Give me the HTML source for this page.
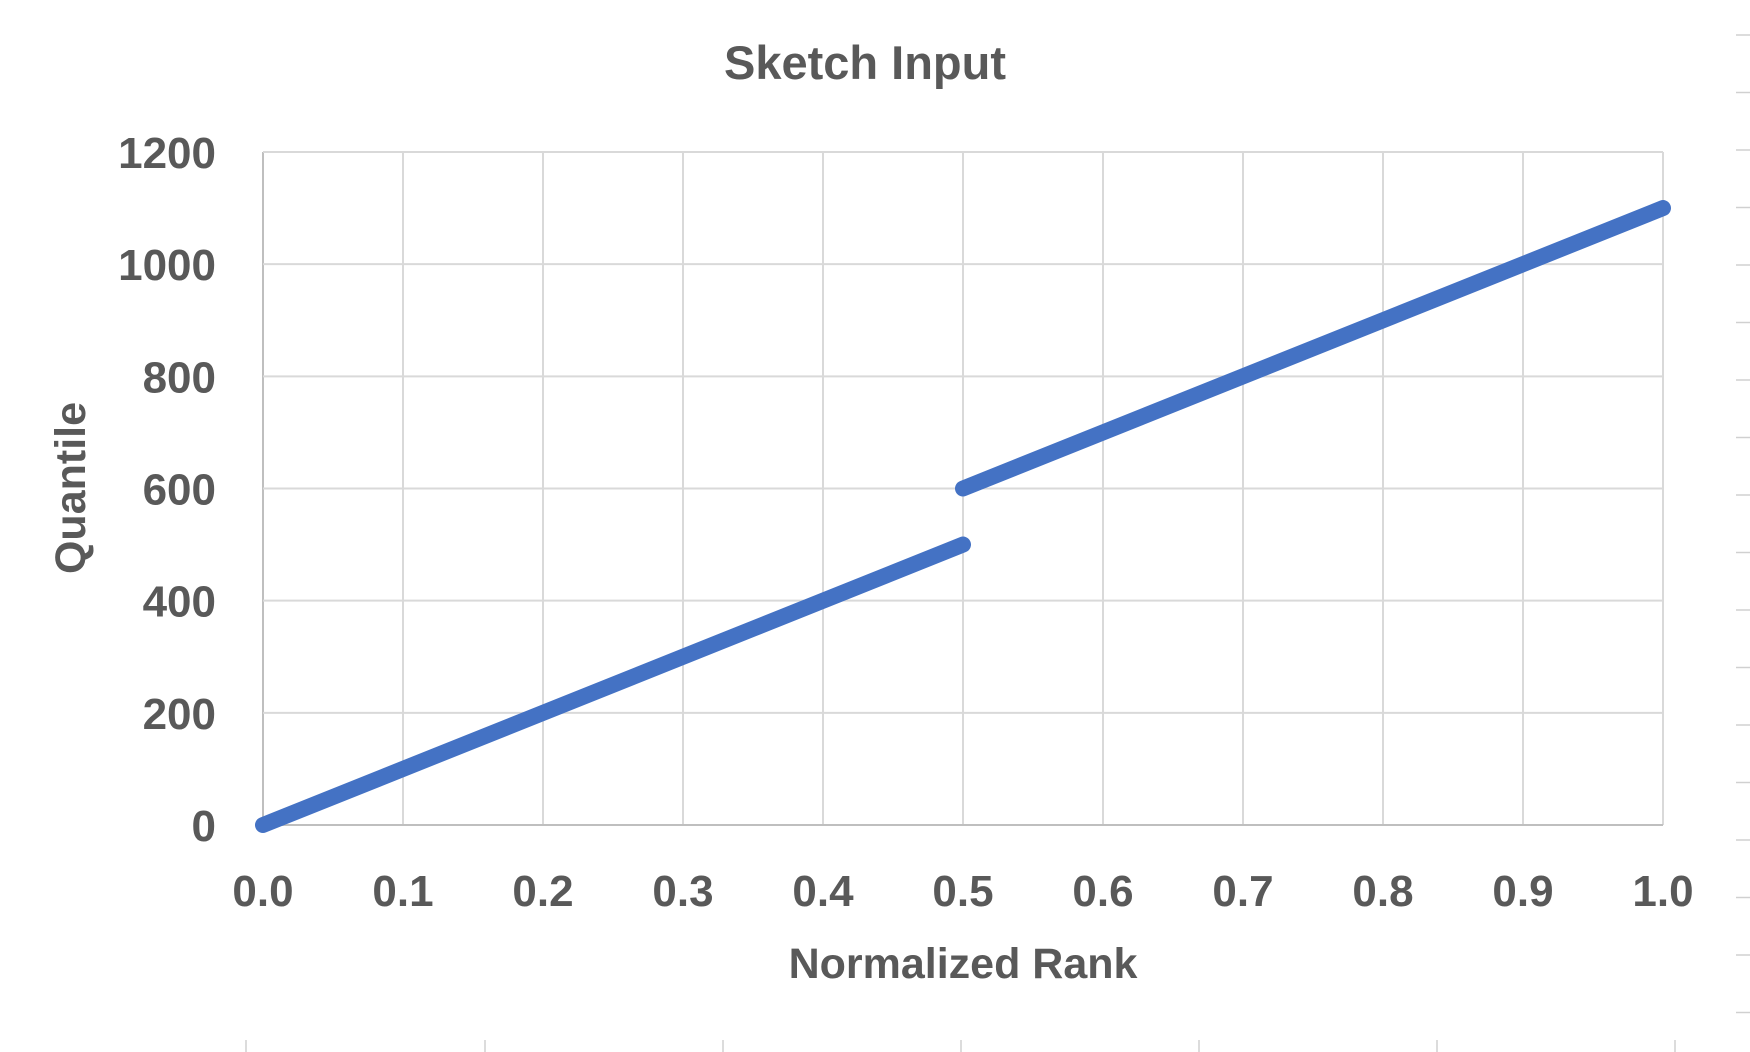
<!DOCTYPE html>
<html><head><meta charset="utf-8"><style>
html,body{margin:0;padding:0;background:#fff;}
svg{display:block;font-family:"Liberation Sans",sans-serif;font-weight:bold;}
</style></head><body>
<svg id="chart" width="1750" height="1052" viewBox="0 0 1750 1052" xmlns="http://www.w3.org/2000/svg">
<text x="865" y="79" text-anchor="middle" font-size="47" fill="#595959">Sketch Input</text>
<g id="grid"></g>
<g id="ticks"></g>
<g id="series"></g>
<text x="963" y="978" text-anchor="middle" font-size="43" fill="#595959">Normalized Rank</text>
<text transform="translate(85,488) rotate(-90)" text-anchor="middle" font-size="43" fill="#595959">Quantile</text>
<g id="edge"></g>
</svg>
<script>
const xTicks=[0,0.1,0.2,0.3,0.4,0.5,0.6,0.7,0.8,0.9,1.0];
const yTicks=[0,200,400,600,800,1000,1200];
const seg1X=[0,0.5];
const seg1Y=[0,500];
const seg2X=[0.5,1.0];
const seg2Y=[600,1100];
const L=263,R=1663,T=152,B=825;
const xs=v=>L+(R-L)*v;
const ys=v=>B-(B-T)*v/1200;
const NS="http://www.w3.org/2000/svg";
function mk(t,a,p){const e=document.createElementNS(NS,t);for(const k in a)e.setAttribute(k,a[k]);p.appendChild(e);return e;}
const grid=document.getElementById('grid'),ticks=document.getElementById('ticks'),series=document.getElementById('series'),edge=document.getElementById('edge');
xTicks.forEach(v=>{const l=mk('line',{x1:xs(v),x2:xs(v),y1:T,y2:B,stroke:v===0?'#bfbfbf':'#d9d9d9','stroke-width':2},grid);


const t=mk('text',{x:xs(v),y:906,'text-anchor':'middle','font-size':44,fill:'#595959'},ticks);t.textContent=v.toFixed(1);

});
yTicks.forEach(v=>{const l=mk('line',{x1:L,x2:R,y1:ys(v),y2:ys(v),stroke:v===0?'#bfbfbf':'#d9d9d9','stroke-width':2},grid);


const t=mk('text',{x:216,y:ys(v)+16,'text-anchor':'end','font-size':44,fill:'#595959'},ticks);t.textContent=v;

});
[[seg1X,seg1Y],[seg2X,seg2Y]].forEach(([X,Y])=>{const pts=X.map((x,i)=>xs(x)+','+ys(Y[i])).join(' ');
const p=mk('polyline',{points:pts,fill:'none',stroke:'#4472C4','stroke-width':16,'stroke-linecap':'round','stroke-linejoin':'round'},series);

});
for(let i=0;i<18;i++){const y=35+i*57.5;const l=mk('line',{x1:1736,x2:1750,y1:y,y2:y,stroke:'#d0d0d0','stroke-width':1.5},edge);

}
[246,485,723,961,1199,1437,1675].forEach(x=>{const l=mk('line',{x1:x,x2:x,y1:1040,y2:1052,stroke:'#d0d0d0','stroke-width':1.5},edge);

});
</script>
</body></html>
